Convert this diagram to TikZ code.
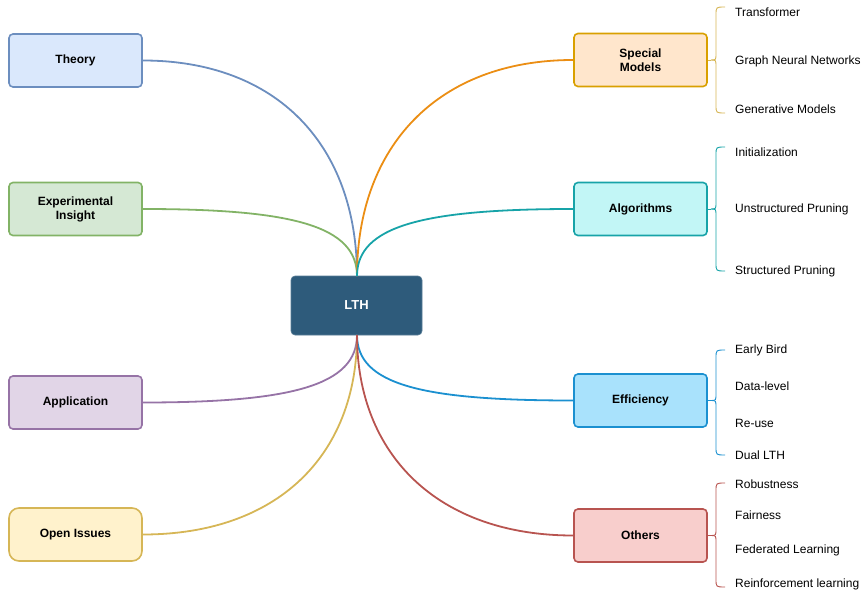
\documentclass[tikz,border=0pt]{standalone}
\usepackage{fontspec}
\setmainfont{Liberation Sans}
\begin{document}
\begin{tikzpicture}[x=1pt,y=-1pt,
  box/.style={draw, line width=1.6pt, rounded corners=4pt, minimum width=133pt, minimum height=53pt, inner sep=0pt, align=center, font=\fontsize{12}{14}\selectfont\bfseries},
  item/.style={anchor=west, inner sep=0pt, font=\fontsize{12}{14}\selectfont},
  edge/.style={line width=1.8pt},
  brace/.style={line width=0.9pt}
]
\definecolor{thB}{HTML}{6C8EBF}\definecolor{thF}{HTML}{DAE8FC}
\definecolor{exB}{HTML}{82B366}\definecolor{exF}{HTML}{D5E8D4}
\definecolor{apB}{HTML}{9673A6}\definecolor{apF}{HTML}{E1D5E7}
\definecolor{opB}{HTML}{D6B656}\definecolor{opF}{HTML}{FFF2CC}
\definecolor{smB}{HTML}{D9A000}\definecolor{smF}{HTML}{FFE6CC}\definecolor{smE}{HTML}{EB8E14}
\definecolor{alB}{HTML}{17A3A8}\definecolor{alF}{HTML}{C2F6F6}
\definecolor{efB}{HTML}{1B90D0}\definecolor{efF}{HTML}{A9E2FC}
\definecolor{otB}{HTML}{B85450}\definecolor{otF}{HTML}{F8CECC}
\definecolor{lthF}{HTML}{2E5B7B}

\useasboundingbox (0,0) rectangle (863,594);

\node[box, draw=thB, fill=thF] (theory) at (75.5,60.5) {Theory};
\node[box, draw=exB, fill=exF] (exp) at (75.5,209) {Experimental\\Insight};
\node[box, draw=apB, fill=apF] (app) at (75.5,402.5) {Application};
\node[box, draw=opB, fill=opF, rounded corners=10pt] (open) at (75.5,534.5) {Open Issues};
\node[box, draw=lthF!80!white, line width=0.6pt, fill=lthF, text=white, minimum width=131pt, minimum height=59pt, font=\fontsize{13}{15}\selectfont\bfseries] (lth) at (356.5,305.5) {LTH};
\node[box, draw=smB, fill=smF] (sm) at (640.5,60) {Special\\Models};
\node[box, draw=alB, fill=alF] (alg) at (640.5,209) {Algorithms};
\node[box, draw=efB, fill=efF] (eff) at (640.5,400.5) {Efficiency};
\node[box, draw=otB, fill=otF] (oth) at (640.5,535.5) {Others};

\coordinate (ltop) at (357,276);
\coordinate (lbot) at (357,335);

% edges
\draw[edge, thB] (theory.east) .. controls +(135,0) and +(0,-130) .. (ltop);
\draw[edge, exB] (exp.east) .. controls +(150,0) and +(0,-50) .. (ltop);
\draw[edge, smE] (sm.west) .. controls +(-135,0) and +(0,-130) .. (ltop);
\draw[edge, alB] (alg.west) .. controls +(-150,0) and +(0,-50) .. (ltop);
\draw[edge, apB] (app.east) .. controls +(150,0) and +(0,50) .. (lbot);
\draw[edge, opB] (open.east) .. controls +(135,0) and +(0,120) .. (lbot);
\draw[edge, efB] (eff.west) .. controls +(-150,0) and +(0,50) .. (lbot);
\draw[edge, otB] (oth.west) .. controls +(-135,0) and +(0,120) .. (lbot);

% braces: name, top, tip, bottom, colour
\newcommand{\mybr}[5]{%
  \coordinate (#1tip) at (711,#3);
  \draw[brace, #5] (725,#2) .. controls (716,#2) .. (716,#2+8) -- (716,#3-7) .. controls (716,#3) .. (#1tip);
  \draw[brace, #5] (#1tip) .. controls (716,#3) .. (716,#3+7) -- (716,#4-8) .. controls (716,#4) .. (725,#4);}

\mybr{sm}{7}{60}{113}{opB}
\draw[brace, opB] (sm.east) -- (smtip);
\mybr{al}{147}{209}{271}{alB}
\draw[brace, alB] (alg.east) -- (altip);
\mybr{ef}{350}{400.5}{455}{efB}
\draw[brace, efB] (eff.east) -- (eftip);
\mybr{ot}{483}{535.5}{587}{otB}
\draw[brace, otB] (oth.east) -- (ottip);

\node[item] (i1) at (735,12) {Transformer};
\node[item] (i2) at (735,61) {Graph Neural Networks};
\node[item] (i3) at (735,109) {Generative Models};
\node[item] (i4) at (735,152) {Initialization};
\node[item] (i5) at (735,209) {Unstructured Pruning};
\node[item] (i6) at (735,271) {Structured Pruning};
\node[item] (i7) at (735,350) {Early Bird};
\node[item] (i8) at (735,386) {Data-level};
\node[item] (i9) at (735,423) {Re-use};
\node[item] (i10) at (735,455) {Dual LTH};
\node[item] (i11) at (735,484) {Robustness};
\node[item] (i12) at (735,515) {Fairness};
\node[item] (i13) at (735,550) {Federated Learning};
\node[item] (i14) at (735,584) {Reinforcement learning};
\end{tikzpicture}
\end{document}
